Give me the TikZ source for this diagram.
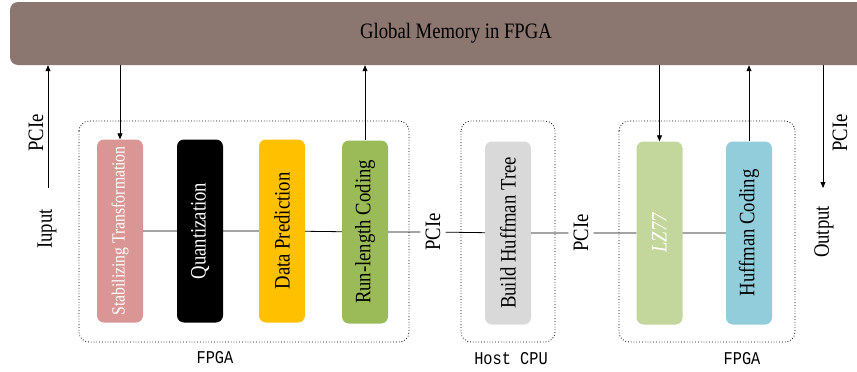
\documentclass[tikz,border=0pt]{standalone}
\usepackage{fontspec}
\setmainfont{Liberation Serif}[FakeStretch=0.85]
\newfontfamily\groupfont{Liberation Mono}[FakeStretch=0.85]
\definecolor{memcolor}{RGB}{139,118,112}
\definecolor{stabcolor}{RGB}{217,150,148}
\definecolor{predcolor}{RGB}{255,192,0}
\definecolor{rlcolor}{RGB}{155,187,89}
\definecolor{treecolor}{RGB}{217,217,217}
\definecolor{lzcolor}{RGB}{195,214,155}
\definecolor{huffcolor}{RGB}{146,205,220}
\usetikzlibrary{arrows.meta, positioning}

\begin{document}
\begin{tikzpicture}[x=1pt, y=-1pt,
    every node/.style={font=\fontsize{22}{24}\selectfont},
    memory/.style={rectangle, rounded corners=8pt, fill=memcolor, minimum width=892pt, minimum height=63pt},
    stage/.style={rectangle, rounded corners=7pt, rotate=90, minimum width=183pt, minimum height=46pt, inner sep=0pt},
    group/.style={draw, dotted, line width=0.8pt, rounded corners=10pt},
    side/.style={rotate=90, inner sep=5pt},
    grouplabel/.style={font=\groupfont\fontsize{18}{20}\selectfont},
    flow/.style={-{Triangle[length=6pt, width=5pt]}, line width=0.8pt},
    link/.style={line width=0.8pt}]
    \useasboundingbox (0,0) rectangle (857,372);
    \clip (0,0) rectangle (857,372);

    % global memory
    \node[memory] (mem) at (456,33.5) {Global Memory in FPGA};

    % processing stages
    \node[stage, fill=stabcolor, text=white, font=\fontsize{18.5}{20}\selectfont] (stab) at (120,231) {Stabilizing Transformation};
    \node[stage, fill=black, text=white] (quant) at (200,231) {Quantization};
    \node[stage, fill=predcolor] (pred) at (282,231) {Data Prediction};
    \node[stage, fill=rlcolor] (rl) at (365,232) {Run-length Coding};
    \node[side] (pciea) at (433,232) {PCIe};
    \node[stage, fill=treecolor] (tree) at (508,233) {Build Huffman Tree};
    \node[side] (pcieb) at (581,233) {PCIe};
    \node[stage, fill=lzcolor, text=white, font=\fontsize{22}{24}\selectfont\itshape] (lz) at (659.5,233) {LZ77};
    \node[stage, fill=huffcolor] (huff) at (749,233) {Huffman Coding};

    % device groups
    \draw[group] (79,121) rectangle (409,342);
    \draw[group] (461,121) rectangle (555,342);
    \draw[group] (619,121) rectangle (795,342);
    \node[grouplabel] (fpgaa) at (215,358) {FPGA};
    \node[grouplabel] (host) at (511,359) {Host CPU};
    \node[grouplabel] (fpgab) at (742,359) {FPGA};

    % host side
    \coordinate (in) at (48,188);
    \coordinate (out) at (823,188);
    \node[side] (pcieL) at (36,133) {PCIe};
    \node[side] (input) at (47,229) {Iuput};
    \node[side] (pcieR) at (840,133) {PCIe};
    \node[side] (output) at (824,232) {Output};

    % connections
    \draw[link] (stab) -- (quant) -- (pred) -- (rl) -- (pciea) -- (tree) -- (pcieb) -- (lz) -- (huff);
    \draw[flow] (in) -- (in |- mem.south);
    \draw[flow] (stab |- mem.south) -- (stab);
    \draw[flow] (rl) -- (rl |- mem.south);
    \draw[flow] (lz |- mem.south) -- (lz);
    \draw[flow] (huff) -- (huff |- mem.south);
    \draw[flow] (out |- mem.south) -- (out);
\end{tikzpicture}
\end{document}
